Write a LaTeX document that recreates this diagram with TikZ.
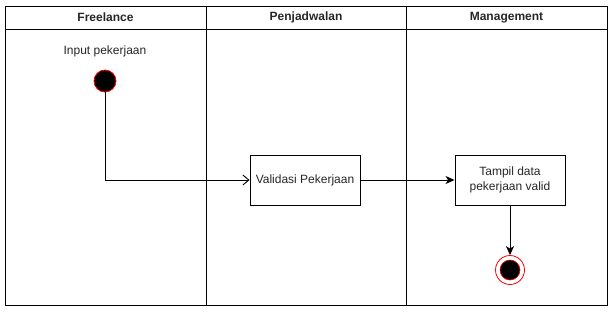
\documentclass[tikz,border=0pt]{standalone}
\usepackage{fontspec}
\setmainfont{Liberation Sans}
\usetikzlibrary{arrows.meta}
\begin{document}
\begin{tikzpicture}[x=1pt,y=-1pt,
  lane/.style={draw=black,line width=1pt},
  action/.style={draw=black,line width=0.9pt,fill=white,minimum width=110pt,minimum height=50pt,align=center,inner sep=2pt,font=\fontsize{12}{14.5}\selectfont,text=black!85},
  startstate/.style={circle,fill=black,draw=red,line width=0.8pt,minimum size=22pt,inner sep=0pt},
  flow/.style={draw=black,line width=0.9pt},
  hdr/.style={font=\bfseries\fontsize{12}{14}\selectfont,text=black!85}]
\useasboundingbox (0,0) rectangle (611,311);
% swimlanes
\draw[lane] (5,6) rectangle (607,305);
\draw[lane] (5,29) -- (607,29);
\draw[lane] (206,6) -- (206,305);
\draw[lane] (406,6) -- (406,305);
\node[hdr] (h1) at (105.5,17.5) {Freelance};
\node[hdr] (h2) at (306,17.5) {Penjadwalan};
\node[hdr] (h3) at (506.5,17.5) {Management};
% activity nodes
\node[font=\fontsize{12}{14}\selectfont,text=black!85] (lbl) at (105,51) {Input pekerjaan};
\node[startstate] (start) at (105,81) {};
\node[action] (val) at (305,180) {Validasi Pekerjaan};
\node[action] (tam) at (510,180) {Tampil data\\pekerjaan valid};
\node[circle,draw=red,line width=0.8pt,fill=white,minimum size=29pt,inner sep=0pt] (end) at (510,270) {};
\node[circle,fill=black,draw=red,line width=0.6pt,minimum size=20pt,inner sep=0pt] (endin) at (510,270) {};
% transitions
\draw[flow,-{Straight Barb[length=6pt,width=10pt,line width=0.9pt]}] (start.south) |- (val.west);
\draw[flow,-{Stealth[length=9pt,width=8pt,inset=2.5pt]}] (val.east) -- (tam.west);
\draw[flow,-{Stealth[length=9pt,width=8pt,inset=2.5pt]}] (tam.south) -- (end.north);
\end{tikzpicture}
\end{document}
